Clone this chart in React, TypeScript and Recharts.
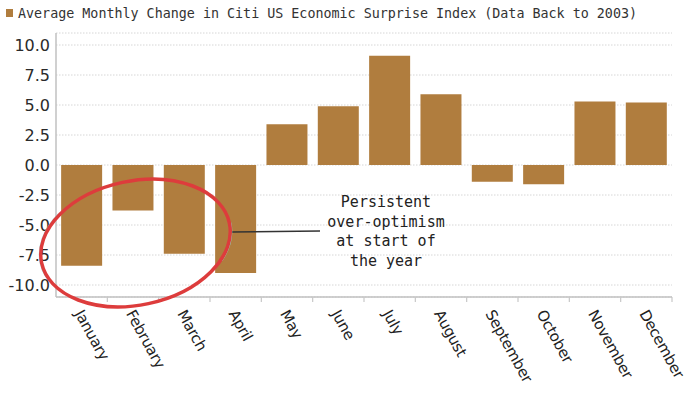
import React from 'react';
import { BarChart, Bar, XAxis, YAxis, CartesianGrid } from 'recharts';

const months = ['January', 'February', 'March', 'April', 'May', 'June', 'July', 'August', 'September', 'October', 'November', 'December'];
const avgChange = [-8.4, -3.8, -7.4, -9.0, 3.4, 4.9, 9.1, 5.9, -1.4, -1.6, 5.3, 5.2];
const yTicks = [-10, -7.5, -5, -2.5, 0, 2.5, 5, 7.5, 10];
const titleText = 'Average Monthly Change in Citi US Economic Surprise Index (Data Back to 2003)';
const noteLines = ['Persistent', 'over-optimism', 'at start of', 'the year'];

const data = months.map((m, i) => ({ month: m, value: avgChange[i] }));

const W = 700;
const H = 394;
const LEFT = 56;
const RIGHT = 28;
const BAR = '#b07d3e';
const band = (W - LEFT - RIGHT) / months.length;

const XTick = (props: any) => {
  const { x, y, payload } = props;
  const tx = x - 3;
  const ty = y + 14;
  return (
    <g>
      <line x1={x + band / 2} y1={y} x2={x + band / 2} y2={y + 5} stroke="#c8c8c8" strokeWidth={1.2} />
      <text
        x={tx}
        y={ty}
        transform={`rotate(61 ${tx} ${ty})`}
        textAnchor="start"
        dominantBaseline="central"
        fontFamily="DejaVu Sans"
        fontSize={15}
        letterSpacing={-0.3}
        fill="#222"
      >
        {payload.value}
      </text>
    </g>
  );
};

const YTick = (props: any) => {
  const { x, y, payload } = props;
  return (
    <text x={x} y={y} dy="0.36em" textAnchor="end" fontFamily="DejaVu Sans" fontSize={16} fill="#2a2a2a">
      {Number(payload.value).toFixed(1)}
    </text>
  );
};

export default function App() {
  return (
    <div style={{ position: 'absolute', left: 0, top: 0, width: W, height: H, background: '#fff' }}>
      <BarChart
        width={W}
        height={H}
        data={data}
        margin={{ top: 33, right: RIGHT, bottom: 0, left: 0 }}
        barCategoryGap="10%"
      >
        <CartesianGrid vertical={false} stroke="#d6d6d6" strokeDasharray="1.5 1.5" />
        <XAxis
          dataKey="month"
          height={97}
          interval={0}
          tickLine={false}
          tickSize={0}
          tickMargin={0}
          axisLine={{ stroke: '#c0c0c0', strokeWidth: 1.5 }}
          tick={<XTick />}
        />
        <YAxis
          width={LEFT}
          domain={[-11, 11]}
          ticks={yTicks}
          tickLine={false}
          tickSize={0}
          tickMargin={6}
          axisLine={{ stroke: '#c0c0c0', strokeWidth: 1.5 }}
          tick={<YTick />}
        />
        <Bar dataKey="value" fill={BAR} isAnimationActive={false} />
      </BarChart>
      <svg width={W} height={H} style={{ position: 'absolute', left: 0, top: 0, pointerEvents: 'none' }}>
        <rect x={6} y={9} width={7} height={8} fill={BAR} />
        <text
          x={18}
          y={18}
          fontFamily="DejaVu Sans Mono"
          fontSize={14}
          fill="#333"
          textLength={619}
          lengthAdjust="spacingAndGlyphs"
        >
          {titleText}
        </text>
        <line x1={232} y1={232} x2={320} y2={231} stroke="#333" strokeWidth={1.5} />
        {noteLines.map((t, i) => (
          <text
            key={t}
            x={386}
            y={207 + i * 19.7}
            textAnchor="middle"
            fontFamily="DejaVu Sans Mono"
            fontSize={15}
            fill="#222"
          >
            {t}
          </text>
        ))}
        <ellipse
          cx={135.5}
          cy={243}
          rx={97.5}
          ry={63.5}
          transform="rotate(-12 135.5 243)"
          fill="none"
          stroke="#8ee8ee"
          strokeWidth={1}
          strokeDasharray="40 200 70 400"
          opacity={0.7}
        />
        <ellipse
          cx={135.5}
          cy={243}
          rx={96}
          ry={62}
          transform="rotate(-12 135.5 243)"
          fill="none"
          stroke="#dd3c3c"
          strokeWidth={3.5}
        />
      </svg>
    </div>
  );
}
